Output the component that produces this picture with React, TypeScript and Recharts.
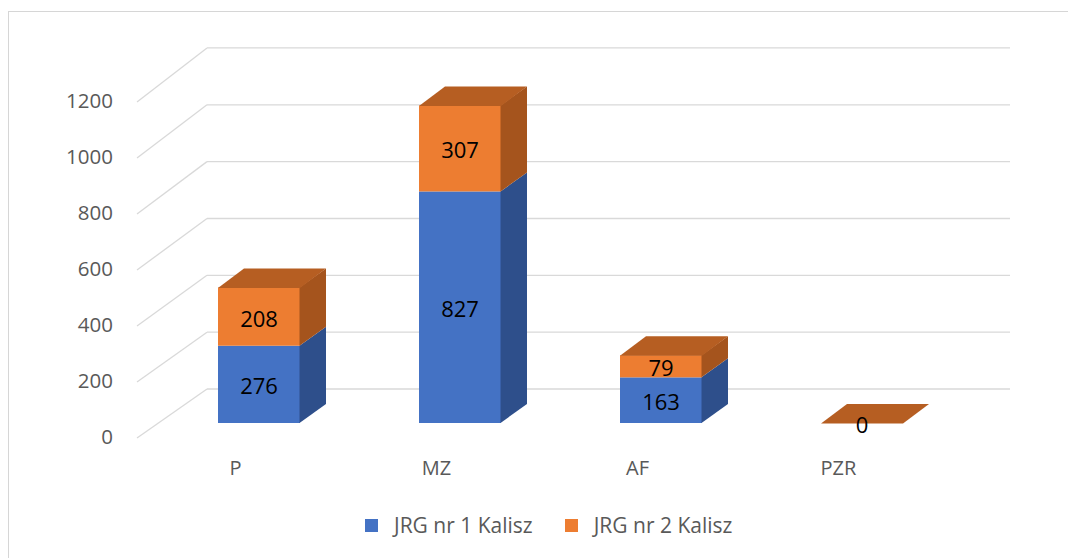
import React from 'react';
import { BarChart, Bar, XAxis, YAxis, CartesianGrid, LabelList } from 'recharts';

const categories = ['P', 'MZ', 'AF', 'PZR'];
const jrg1Values = [276, 827, 163, 0];
const jrg2Values = [208, 307, 79, 0];
const yTicks = [0, 200, 400, 600, 800, 1000, 1200];
const seriesNames = ['JRG nr 1 Kalisz', 'JRG nr 2 Kalisz'];

const data = categories.map((name, i) => ({ name, jrg1: jrg1Values[i], jrg2: jrg2Values[i] }));

const FONT = '"Open Sans", "Noto Sans", sans-serif';
const DX = 26;
const DY = -19;
const AXIS_TEXT = '#595959';
const GRID = '#d9d9d9';

const COLORS = {
  jrg1: { front: '#4472C4', side: '#2E4F8B', top: '#3A63AC' },
  jrg2: { front: '#ED7D31', side: '#A5541D', top: '#B65E22' },
};

const make3DShape = (c: { front: string; side: string; top: string }, isTop: (p: any) => boolean) =>
  (props: any) => {
    const { x, y, width, payload } = props;
    if (x == null || y == null) return <g />;
    const h = Math.max(0, props.height || 0);
    const w = width;
    const side = [
      [x + w - 0.5, y + h],
      [x + w + DX, y + h + DY],
      [x + w + DX, y + DY],
      [x + w - 0.5, y],
    ].map((p) => p.join(',')).join(' ');
    const top = [
      [x, y + 0.5],
      [x + DX, y + DY],
      [x + w + DX, y + DY],
      [x + w, y + 0.5],
    ].map((p) => p.join(',')).join(' ');
    return (
      <g>
        {h > 0 && <rect x={x} y={y} width={w} height={h} fill={c.front} />}
        {h > 0 && <polygon points={side} fill={c.side} />}
        {isTop(payload) && <polygon points={top} fill={c.top} />}
      </g>
    );
  };

const shape1 = make3DShape(COLORS.jrg1, (p) => !p || p.jrg2 === 0 && p.jrg1 > 0);
const shape2 = make3DShape(COLORS.jrg2, () => true);

const makeLabel = (skipZero: boolean) => (p: any) => {
  const vb = p.viewBox || p;
  const { x, y, width, height } = vb;
  if (x == null) return null;
  if (skipZero && (p.value === 0 || p.value == null)) return null;
  return (
    <text
      x={x + width / 2}
      y={y + (height || 0) / 2 + 1}
      textAnchor="middle"
      dominantBaseline="central"
      fontFamily={FONT}
      fontSize={22}
      fill="#000"
    >
      {p.value}
    </text>
  );
};

const renderGridLine = (props: any) => {
  const { x1, y1, x2 } = props;
  const bottom = (props.y || 0) + (props.height || 0);
  const yBack = bottom - 34 - (bottom - y1) * 1.015;
  const yFront = y1 + 15;
  return (
    <g key={props.key}>
      <line x1={x1 - 21} y1={yFront} x2={x1 + 49} y2={yBack} stroke={GRID} strokeWidth={1.3} />
      <line x1={x1 + 49} y1={yBack} x2={x2 + 48} y2={yBack} stroke={GRID} strokeWidth={1.3} />
    </g>
  );
};

const YTick = (p: any) => (
  <text
    x={p.x - 45}
    y={p.y + 13}
    textAnchor="end"
    dominantBaseline="central"
    fontFamily={FONT}
    fontSize={20.5}
    fill={AXIS_TEXT}
  >
    {p.payload.value}
  </text>
);

const XTick = (p: any) => (
  <text
    x={p.x - 23}
    y={p.y + 44}
    textAnchor="middle"
    dominantBaseline="central"
    fontFamily={FONT}
    fontSize={20}
    fill={AXIS_TEXT}
  >
    {p.payload.value}
  </text>
);

export default function App() {
  const legendColors = [COLORS.jrg1.front, COLORS.jrg2.front];
  return (
    <div
      style={{
        position: 'absolute',
        left: 0,
        top: 0,
        width: 1068,
        height: 558,
        overflow: 'hidden',
        background: '#fff',
        fontFamily: FONT,
      }}
    >
      <div
        style={{
          position: 'absolute',
          left: 8,
          top: 11,
          width: 1120,
          height: 620,
          border: '1px solid #d6d6d6',
          boxSizing: 'border-box',
        }}
      />
      <div style={{ position: 'absolute', left: 0, top: 0 }}>
        <BarChart
          width={1068}
          height={558}
          data={data}
          margin={{ top: 87, right: 106, bottom: 105, left: 0 }}
          barSize={82}
        >
          <CartesianGrid horizontal={renderGridLine} vertical={false} />
          <XAxis
            dataKey="name"
            axisLine={false}
            tickLine={false}
            tickSize={0}
            tickMargin={0}
            height={30}
            tick={XTick}
            interval={0}
          />
          <YAxis
            width={158}
            domain={[0, 1200]}
            ticks={yTicks}
            axisLine={false}
            tickLine={false}
            tickSize={0}
            tickMargin={0}
            tick={YTick}
            interval={0}
          />
          <Bar dataKey="jrg1" name={seriesNames[0]} stackId="a" fill={COLORS.jrg1.front} shape={shape1} isAnimationActive={false}>
            <LabelList dataKey="jrg1" content={makeLabel(true)} />
          </Bar>
          <Bar dataKey="jrg2" name={seriesNames[1]} stackId="a" fill={COLORS.jrg2.front} shape={shape2} isAnimationActive={false}>
            <LabelList dataKey="jrg2" content={makeLabel(false)} />
          </Bar>
        </BarChart>
      </div>
      <div
        style={{
          position: 'absolute',
          left: 365,
          top: 512,
          height: 26,
          display: 'flex',
          alignItems: 'center',
          fontSize: 21,
          color: AXIS_TEXT,
          whiteSpace: 'nowrap',
        }}
      >
        {seriesNames.map((n, i) => (
          <div key={n} style={{ display: 'flex', alignItems: 'center', marginRight: i === 0 ? 32 : 0 }}>
            <span style={{ display: 'inline-block', width: 13, height: 13, background: legendColors[i], marginRight: 16 }} />
            <span>{n}</span>
          </div>
        ))}
      </div>
    </div>
  );
}
